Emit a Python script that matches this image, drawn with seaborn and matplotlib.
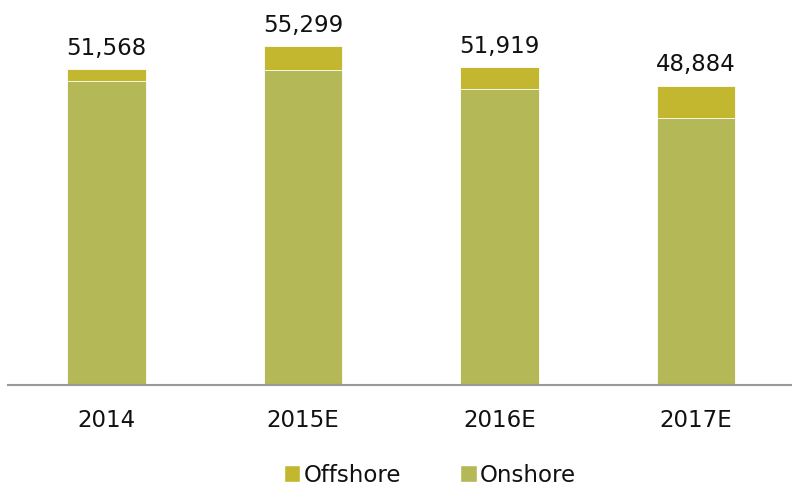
import matplotlib
matplotlib.use("Agg")
import matplotlib.pyplot as plt
from matplotlib.patches import Patch
import seaborn as sns
import pandas as pd
import numpy as np

# Wind installations by year (totals as labelled, offshore share estimated)
years = ["2014", "2015E", "2016E", "2017E"]
totals = [51568, 55299, 51919, 48884]
offshore = [1850, 3920, 3650, 5280]

offshore_color = "#C3B730"
onshore_color = "#B4B857"

sns.set_theme(style="white")
plt.rcParams["font.family"] = ["DejaVu Sans"]

df = pd.DataFrame({
    "year": years,
    "total": totals,
    "offshore": offshore,
})
df["onshore"] = df["total"] - df["offshore"]

fig = plt.figure(figsize=(7.92, 4.89), dpi=100)
ax = fig.add_axes([8.25 / 792, 0.2112, 786 / 792, 0.7505])

# Full stack height in the offshore colour, onshore part drawn over it
sns.barplot(data=df, x="year", y="total", color=offshore_color, width=0.4,
            saturation=1, edgecolor="white", linewidth=0.6, ax=ax)
sns.barplot(data=df, x="year", y="onshore", color=onshore_color, width=0.4,
            saturation=1, edgecolor="white", linewidth=0.6, ax=ax)

ax.set_xlim(-0.5, 3.5)
ax.set_ylim(0, 60000)
ax.set_xlabel("")
ax.set_ylabel("")
ax.set_yticks([])

for i, t in enumerate(df["total"]):
    ax.annotate(f"{t:,}", xy=(i, t), xytext=(0, 7.5), textcoords="offset points",
                ha="center", va="bottom", fontsize=16.5, color="#111111")

ax.tick_params(axis="x", length=0, pad=17, labelsize=16.5, labelcolor="#111111")

for side in ["top", "right", "left"]:
    ax.spines[side].set_visible(False)
ax.spines["bottom"].set_color("#999999")
ax.spines["bottom"].set_linewidth(1.5)

handles = [Patch(facecolor=offshore_color, label="Offshore"),
           Patch(facecolor=onshore_color, label="Onshore")]
fig.legend(handles=handles, loc="center", bbox_to_anchor=(430 / 792, 1 - 476 / 489),
           ncol=2, frameon=False, fontsize=16.5, handlelength=0.7, handleheight=0.7,
           handletextpad=0.15, columnspacing=2.6, labelcolor="#111111",
           borderpad=0.1)

fig.savefig("out.png", dpi=100)
